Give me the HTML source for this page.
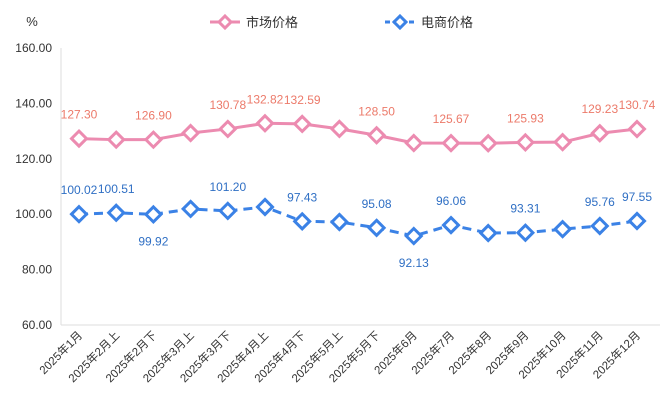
<!DOCTYPE html>
<html><head><meta charset="utf-8"><style>
body{margin:0;background:#fff;}
svg{display:block;font-family:"Liberation Sans","Noto Sans CJK SC",sans-serif;}
</style></head><body>
<svg id="c" width="671" height="413"></svg>
<script>
const categories=["2025年1月","2025年2月上","2025年2月下","2025年3月上","2025年3月下","2025年4月上","2025年4月下","2025年5月上","2025年5月下","2025年6月","2025年7月","2025年8月","2025年9月","2025年10月","2025年11月","2025年12月"];
const marketValues=[127.30,126.9,126.90,129.3,130.78,132.82,132.59,130.8,128.50,125.7,125.67,125.6,125.93,126.0,129.23,130.74];
const marketLabeled=[1,0,1,0,1,1,1,0,1,0,1,0,1,0,1,1];
const ecomValues=[100.02,100.51,99.92,101.9,101.20,102.6,97.43,97.2,95.08,92.13,96.06,93.2,93.31,94.6,95.76,97.55];
const ecomLabeled=[1,1,1,0,1,0,1,0,1,1,1,0,1,0,1,1];
const ecomBelow=[0,0,1,0,0,0,0,0,0,1,0,0,0,0,0,0];
const yTicks=[60,80,100,120,140,160];
const NS="http://www.w3.org/2000/svg";
const svg=document.getElementById('c');
const X0=79,DX=37.2,yMin=60,yMax=160,yTop=48,yBot=325;
const xs=i=>X0+i*DX;
const ys=v=>yBot-(v-yMin)/(yMax-yMin)*(yBot-yTop);
function mk(t,a,txt){const e=document.createElementNS(NS,t);for(const k in a)e.setAttribute(k,a[k]);if(txt!==undefined)e.textContent=txt;svg.appendChild(e);return e;}
let e;
e=mk('line',{x1:61,y1:48,x2:61,y2:325,stroke:'#ddd','stroke-width':1});


e=mk('line',{x1:61,y1:325,x2:660,y2:325,stroke:'#ddd','stroke-width':1});


e=mk('text',{x:32,y:26,'font-size':13,fill:'#333','text-anchor':'middle'},'%');


yTicks.forEach(v=>{
 e=mk('text',{x:52,y:ys(v)+4,'font-size':12,fill:'#333','text-anchor':'end'},v.toFixed(2));
 
 
});
categories.forEach((c,i)=>{
 e=mk('text',{x:xs(i)+4,y:336,'font-size':11.5,fill:'#333','text-anchor':'end',transform:`rotate(-45 ${xs(i)+4} 336)`},c);
 
 
});
function series(vals,lab,below,color,lcolor,dash,name){
 const pts=vals.map((v,i)=>xs(i)+','+ys(v)).join(' ');
 e=mk('polyline',{points:pts,fill:'none',stroke:color,'stroke-width':3,'stroke-dasharray':dash});
 
 
 vals.forEach((v,i)=>{
  const x=xs(i),y=ys(v),r=7.5;
  e=mk('polygon',{points:`${x},${y-r} ${x+r},${y} ${x},${y+r} ${x-r},${y}`,fill:'#fff',stroke:color,'stroke-width':3});
  
  
  if(lab[i]){
   const ly=below&&below[i]?y+31:y-20;
   e=mk('text',{x:x,y:ly,'font-size':12,fill:lcolor,'text-anchor':'middle'},v.toFixed(2));
   
   
  }
 });
}
series(marketValues,marketLabeled,null,'#ec8bb0','#ec7a6a','none','market-price');
series(ecomValues,ecomLabeled,ecomBelow,'#3b82e6','#2f6fc4','9,6','ecommerce-price');
function legend(x,color,dash,label,name){
 const g=document.createElementNS(NS,'g');svg.appendChild(g);
 
 
 const l=document.createElementNS(NS,'line');
 [['x1',x],['y1',22],['x2',x+30],['y2',22],['stroke',color],['stroke-width',3],['stroke-dasharray',dash]].forEach(a=>l.setAttribute(a[0],a[1]));g.appendChild(l);
 const p=document.createElementNS(NS,'polygon');const cx=x+15;
 p.setAttribute('points',`${cx},16 ${cx+6},22 ${cx},28 ${cx-6},22`);p.setAttribute('fill','#fff');p.setAttribute('stroke',color);p.setAttribute('stroke-width',3);g.appendChild(p);
 const t=document.createElementNS(NS,'text');t.setAttribute('x',x+36);t.setAttribute('y',27);t.setAttribute('font-size',13);t.setAttribute('fill','#333');t.textContent=label;g.appendChild(t);
}
legend(210,'#ec8bb0','none','市场价格','legend-market-price');
legend(385,'#3b82e6','5,3','电商价格','legend-ecommerce-price');
</script>
</body></html>
